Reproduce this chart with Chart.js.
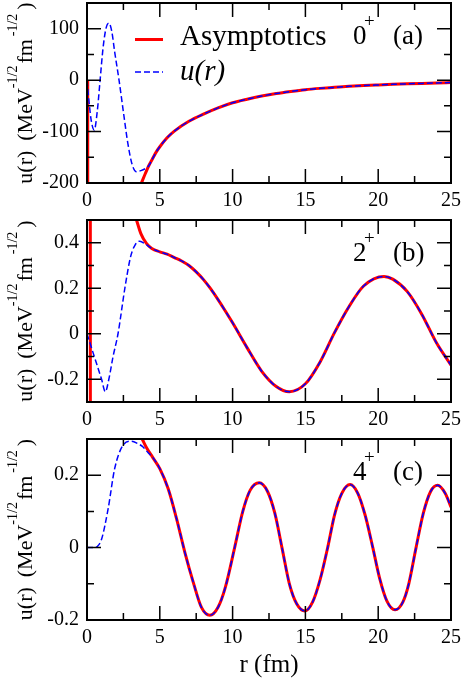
<!DOCTYPE html>
<html>
<head>
<meta charset="utf-8">
<title>u(r) vs asymptotics</title>
<script src="https://cdn.jsdelivr.net/npm/chart.js@4.4.1/dist/chart.umd.min.js"></script>
<style>
  body { margin: 0; background: #fff; }
  canvas { position: absolute; left: 0; }
</style>
</head>
<body>
<canvas id="chartA" width="463" height="215" style="top:0"></canvas>
<canvas id="chartB" width="463" height="215" style="top:215px"></canvas>
<canvas id="chartC" width="463" height="264" style="top:430px"></canvas>
<script>
// r in fm, u in MeV^-1/2 fm^-1/2
const xTicks = [0, 5, 10, 15, 20, 25];
const xMinorTicks = [2.5, 7.5, 12.5, 17.5, 22.5];

// (a) 0+
const rSpikeA = [0.05, 0.06];
const uSpikeA = [0, -2000];
const rAsymA = [3.74, 4.0];
const uAsymA = [-200, -182];
const rInnerA = [0, 0.15, 0.3, 0.5, 0.7, 0.9, 1.1, 1.3, 1.5, 1.7, 1.9, 2.2, 2.5, 2.8, 3.1, 3.4, 3.7, 4.0];
const uInnerA = [0, -45, -80, -97, -62, 0, 62, 100, 111, 95, 55, 0, -62, -122, -164, -178, -176, -172];
const rTailA = [4.25, 4.5, 4.75, 5, 5.5, 6, 7, 8, 9, 10, 11, 12, 13, 14, 15, 16, 17, 18, 19, 20, 21, 22, 23, 24, 25];
const uTailA = [-166, -153, -140, -129.5, -112, -99, -80, -66, -54, -44, -37, -31, -26, -22, -18.5, -16, -14, -12, -10.5, -9.3, -8.2, -7.2, -6.3, -5.5, -4.8];
const yTicksA = [-200, -100, 0, 100];
const yMinorA = [-150, -50, 50];

// (b) 2+
const rSpikeB = [0.22, 0.24];
const uSpikeB = [3, -3];
const rAsymB = [3.4, 3.7, 4.08];
const uAsymB = [0.5, 0.44, 0.397];
const rInnerB = [0, 0.5, 1.0, 1.26, 1.5, 1.79, 2.13, 2.6, 3.0, 3.3, 3.62, 4.0];
const uInnerB = [0, -0.1, -0.2, -0.255, -0.2, -0.1, 0, 0.2, 0.34, 0.39, 0.407, 0.395];
const rTailB = [4.45, 5, 5.5, 6, 6.5, 7, 7.5, 8, 8.5, 9, 9.5, 10, 11, 12, 13, 13.9, 15, 16, 17, 18, 19, 20.4, 21, 22, 23, 24, 25];
const uTailB = [0.375, 0.36, 0.35, 0.335, 0.32, 0.3, 0.272, 0.238, 0.197, 0.15, 0.1, 0.048, -0.062, -0.165, -0.232, -0.255, -0.22, -0.125, 0.005, 0.12, 0.21, 0.252, 0.24, 0.185, 0.085, -0.04, -0.138];
const yTicksB = [-0.2, 0, 0.2, 0.4];
const yMinorB = [-0.1, 0.1, 0.3];

// (c) 4+
const rAsymC = [3.79, 4.1];
const uAsymC = [0.3, 0.275];
const rInnerC = [0, 0.5, 0.7, 1.0, 1.45, 1.9, 2.48, 3.05, 3.5, 3.85, 4.2];
const uInnerC = [0, 0, 0.003, 0.023, 0.107, 0.218, 0.283, 0.294, 0.287, 0.278, 0.262];
const rTailC = [4.5, 5.0, 5.57, 6.15, 6.72, 7.3, 7.87, 8.44, 9.0, 9.5, 10.14, 10.7, 11.2, 11.83, 12.4, 12.9, 13.39, 13.9, 14.4, 14.97, 15.5, 16.0, 16.53, 17.0, 17.5, 18.07, 18.6, 19.1, 19.63, 20.1, 20.6, 21.16, 21.7, 22.1, 22.6, 23.1, 23.6, 24.08, 24.6, 25];
const uTailC = [0.25, 0.218, 0.163, 0.08, -0.013, -0.096, -0.166, -0.187, -0.165, -0.11, 0, 0.1, 0.158, 0.179, 0.155, 0.095, 0, -0.1, -0.155, -0.175, -0.15, -0.09, 0, 0.09, 0.15, 0.174, 0.15, 0.09, 0, -0.085, -0.148, -0.172, -0.15, -0.1, 0, 0.095, 0.155, 0.172, 0.15, 0.112];
const yTicksC = [-0.2, 0, 0.2];
const yMinorC = [-0.1, 0.1];

const SERIF = '"Liberation Serif", "Times New Roman", serif';
const RED = "#ff0000", BLUE = "#0000ff";

Chart.defaults.font.family = SERIF;
Chart.defaults.color = "#000";

const pts = (xs, ys) => xs.map((x, i) => ({ x: x, y: ys[i] }));

// frame, inward ticks, y title, state label and legend
const decor = {
  id: "decor",
  afterDatasetsDraw(chart, args, o) {
    const ctx = chart.ctx, a = chart.chartArea;
    const x = chart.scales.x, y = chart.scales.y;
    ctx.save();
    ctx.strokeStyle = "#000";
    ctx.lineWidth = 1.5;
    ctx.beginPath();
    const xt = (v, len) => {
      const p = x.getPixelForValue(v);
      ctx.moveTo(p, a.bottom); ctx.lineTo(p, a.bottom - len);
      ctx.moveTo(p, a.top); ctx.lineTo(p, a.top + len);
    };
    const yt = (v, len) => {
      const p = y.getPixelForValue(v);
      ctx.moveTo(a.left, p); ctx.lineTo(a.left + len, p);
      ctx.moveTo(a.right, p); ctx.lineTo(a.right - len, p);
    };
    xTicks.forEach(v => xt(v, 14));
    xMinorTicks.forEach(v => xt(v, 7));
    o.yMajor.forEach(v => yt(v, 14));
    o.yMinor.forEach(v => yt(v, 7));
    ctx.stroke();
    ctx.lineWidth = 2;
    ctx.strokeRect(a.left, a.top, a.right - a.left, a.bottom - a.top);

    // state label, e.g. 0+ (a)
    ctx.fillStyle = "#000";
    ctx.textAlign = "left";
    ctx.textBaseline = "alphabetic";
    ctx.font = "27px " + SERIF;
    ctx.fillText(o.state, a.right - 98, a.top + 41);
    ctx.fillText(o.tag, a.right - 58, a.top + 41);
    ctx.font = "19px " + SERIF;
    ctx.fillText("+", a.right - 87, a.top + 24);

    // legend in panel (a)
    if (o.legend) {
      const red = chart.data.datasets[2], blue = chart.data.datasets[0];
      ctx.lineWidth = 3;
      ctx.strokeStyle = red.borderColor;
      ctx.beginPath();
      ctx.moveTo(a.left + 48, a.top + 36.5); ctx.lineTo(a.left + 76, a.top + 36.5);
      ctx.stroke();
      ctx.font = "29px " + SERIF;
      ctx.fillText(red.label, a.left + 93, a.top + 42);
      ctx.lineWidth = 1.5;
      ctx.strokeStyle = blue.borderColor;
      ctx.setLineDash([6, 3]);
      ctx.beginPath();
      ctx.moveTo(a.left + 48, a.top + 69); ctx.lineTo(a.left + 76, a.top + 69);
      ctx.stroke();
      ctx.setLineDash([]);
      ctx.font = "italic 29px " + SERIF;
      ctx.fillText(blue.label, a.left + 93, a.top + 77);
    }

    // rotated y title with superscripts
    const parts = [
      { t: "u(r)", sup: false, gap: 0 },
      { t: "(MeV", sup: false, gap: 10 },
      { t: "-1/2", sup: true, gap: 0 },
      { t: "fm", sup: false, gap: 2 },
      { t: "-1/2", sup: true, gap: 3 },
      { t: ")", sup: false, gap: 4 },
    ];
    const mainFont = "22px " + SERIF, supFont = "14px " + SERIF;
    let total = 0;
    parts.forEach(p => {
      ctx.font = p.sup ? supFont : mainFont;
      p.w = ctx.measureText(p.t).width;
      total += p.gap + p.w;
    });
    ctx.translate(32, (a.top + a.bottom) / 2);
    ctx.rotate(-Math.PI / 2);
    let pos = -total / 2;
    parts.forEach(p => {
      pos += p.gap;
      ctx.font = p.sup ? supFont : mainFont;
      ctx.fillText(p.t, pos, p.sup ? -15 : 0);
      pos += p.w;
    });
    ctx.restore();
  },
};

function panel(id, c) {
  return new Chart(document.getElementById(id), {
    type: "line",
    data: {
      datasets: [
        { label: "u(r)", data: pts(c.rInner, c.uInner).concat(pts(c.rTail, c.uTail)),
          borderColor: BLUE, borderWidth: 1.5, borderDash: [6, 3], order: 0 },
        { label: "spike", data: pts(c.rSpike, c.uSpike), borderColor: RED, borderWidth: 3, order: 1 },
        { label: "Asymptotics", data: pts(c.rAsym, c.uAsym).concat(pts(c.rTail, c.uTail)),
          borderColor: RED, borderWidth: 3, order: 1 },
      ],
    },
    options: {
      responsive: false,
      animation: false,
      events: [],
      elements: {
        point: { radius: 0 },
        line: { cubicInterpolationMode: "monotone", fill: false, borderCapStyle: "butt" },
      },
      datasets: { line: { clip: 0 } },
      layout: { padding: { top: c.padTop, right: 12, left: 0, bottom: 0 } },
      plugins: {
        legend: { display: false },
        tooltip: { enabled: false },
        decor: { yMajor: c.yTicks, yMinor: c.yMinor, state: c.state, tag: c.tag, legend: c.legend },
      },
      scales: {
        x: {
          type: "linear",
          min: 0,
          max: 25,
          grid: { display: false, drawTicks: false },
          border: { display: false },
          ticks: { font: { size: 20 }, padding: 6, maxRotation: 0, autoSkip: false, callback: v => String(v) },
          title: { display: c.xTitle, text: "r (fm)", font: { size: 25 }, padding: { top: 0, bottom: 14 } },
          afterBuildTicks: s => { s.ticks = xTicks.map(v => ({ value: v })); },
          afterFit: s => { s.height = c.xh; s.paddingLeft = 0; s.paddingRight = 0; },
        },
        y: {
          min: c.yMin,
          max: c.yMax,
          grid: { display: false, drawTicks: false },
          border: { display: false },
          ticks: { font: { size: 20 }, padding: 8, autoSkip: false, callback: v => String(v) },
          afterBuildTicks: s => { s.ticks = c.yTicks.map(v => ({ value: v })); },
          afterFit: s => { s.width = 87; s.paddingTop = 0; s.paddingBottom = 0; },
        },
      },
    },
    plugins: [decor],
  });
}

panel("chartA", {
  rSpike: rSpikeA, uSpike: uSpikeA, rAsym: rAsymA, uAsym: uAsymA,
  rInner: rInnerA, uInner: uInnerA, rTail: rTailA, uTail: uTailA,
  yMin: -200, yMax: 150, yTicks: yTicksA, yMinor: yMinorA,
  state: "0", tag: "(a)", legend: true, padTop: 3, xh: 32, xTitle: false,
});

panel("chartB", {
  rSpike: rSpikeB, uSpike: uSpikeB, rAsym: rAsymB, uAsym: uAsymB,
  rInner: rInnerB, uInner: uInnerB, rTail: rTailB, uTail: uTailB,
  yMin: -0.3, yMax: 0.5, yTicks: yTicksB, yMinor: yMinorB,
  state: "2", tag: "(b)", legend: false, padTop: 5, xh: 28, xTitle: false,
});

panel("chartC", {
  rSpike: [], uSpike: [], rAsym: rAsymC, uAsym: uAsymC,
  rInner: rInnerC, uInner: uInnerC, rTail: rTailC, uTail: uTailC,
  yMin: -0.2, yMax: 0.3, yTicks: yTicksC, yMinor: yMinorC,
  state: "4", tag: "(c)", legend: false, padTop: 9, xh: 74, xTitle: true,
});
</script>
</body>
</html>
